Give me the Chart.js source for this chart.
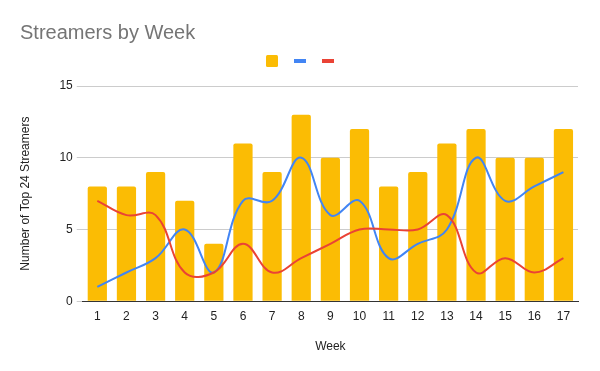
<!DOCTYPE html>
<html>
<head>
<meta charset="utf-8">
<script src="https://cdn.jsdelivr.net/npm/chart.js@4"></script>
<style>
  html, body { margin: 0; padding: 0; background: #fff; }
  #wrap { width: 600px; height: 371px; position: relative; }
</style>
</head>
<body>
<div id="wrap"><canvas id="chart"></canvas></div>
<script>
// data
const weeks = ['1','2','3','4','5','6','7','8','9','10','11','12','13','14','15','16','17'];
const barValues = [8, 8, 9, 7, 4, 11, 9, 13, 10, 12, 8, 9, 11, 12, 10, 10, 12];
const blueValues = [1, 2, 3, 5, 2, 7, 7, 10, 6, 7, 3, 4, 5, 10, 7, 8, 9];
const redValues = [7, 6, 6, 2, 2, 4, 2, 3, 4, 5, 5, 5, 6, 2, 3, 2, 3];
const yTicks = [0, 5, 10, 15];

const YELLOW = '#FBBC04', BLUE = '#4285F4', RED = '#EA4335';
const FONT = 'Arial, "Liberation Sans", sans-serif';

// small swatches for the legend (square for bars, dash for lines)
function swatch(color, h) {
  const c = document.createElement('canvas');
  c.width = 12; c.height = 12;
  const g = c.getContext('2d');
  g.fillStyle = color;
  if (h === 12) {
    g.beginPath(); g.roundRect(0, 0, 12, 12, 1.5); g.fill();
  } else {
    g.fillRect(0, (12 - h) / 2, 12, h);
  }
  return c;
}
const swatches = [swatch(YELLOW, 12), swatch(BLUE, 4), swatch(RED, 4)];

// extra room under the legend, and nudge it a little to the right
const legendGap = {
  id: 'legendGap',
  beforeInit(chart) {
    const fit = chart.legend.fit;
    chart.legend.fit = function () { fit.bind(chart.legend)(); this.height += 9; };
  },
  afterLayout(chart) {
    chart.legend.left += 4;
    chart.legend.right += 4;
  }
};

new Chart(document.getElementById('chart'), {
  data: {
    labels: weeks,
    datasets: [
      {
        type: 'line', label: '', data: blueValues, order: 1,
        borderColor: BLUE, backgroundColor: BLUE, borderWidth: 2,
        pointRadius: 0, tension: 0.4, fill: false,
      },
      {
        type: 'line', label: '', data: redValues, order: 0,
        borderColor: RED, backgroundColor: RED, borderWidth: 2,
        pointRadius: 0, tension: 0.4, fill: false,
      },
      {
        type: 'bar', label: '', data: barValues, order: 2,
        backgroundColor: YELLOW, borderWidth: 0,
        barPercentage: 0.66, categoryPercentage: 1,
        borderRadius: { topLeft: 2, topRight: 2 }, borderSkipped: 'bottom',
      },
    ]
  },
  plugins: [legendGap],
  options: {
    responsive: true, maintainAspectRatio: false, animation: false,
    layout: { padding: { top: 10, right: 22, left: 20, bottom: 13 } },
    plugins: {
      tooltip: { enabled: false },
      title: {
        display: true, text: 'Streamers by Week', align: 'start',
        color: '#757575', font: { family: FONT, size: 20, weight: 'normal' },
        padding: { top: 11, bottom: 0 },
      },
      legend: {
        display: true, position: 'top', align: 'center',
        labels: {
          usePointStyle: true, boxWidth: 12, boxHeight: 12, padding: 10,
          font: { family: FONT, size: 12 },
          generateLabels: () => [2, 0, 1].map((i, k) => ({
            text: '', datasetIndex: i, pointStyle: swatches[k],
            fillStyle: 'transparent', strokeStyle: 'transparent', lineWidth: 0,
          })),
        },
      },
    },
    scales: {
      x: {
        grid: { display: false, drawTicks: false },
        border: { display: true, color: '#333333', width: 1 },
        ticks: { color: '#222222', font: { family: FONT, size: 12 }, padding: 8, maxRotation: 0 },
        title: { display: true, text: 'Week', color: '#222222', font: { family: FONT, size: 12 }, padding: { top: 8 } },
      },
      y: {
        min: 0, max: 15,
        afterBuildTicks: s => { s.ticks = yTicks.map(v => ({ value: v })); },
        grid: { color: '#cccccc', tickLength: 6, tickColor: '#cccccc' },
        border: { display: false },
        ticks: { color: '#222222', font: { family: FONT, size: 12 }, padding: 4 },
        title: { display: true, text: 'Number of Top 24 Streamers', color: '#222222', font: { family: FONT, size: 12 }, padding: { top: -2, bottom: 23 } },
      },
    },
  },
});
</script>
</body>
</html>
